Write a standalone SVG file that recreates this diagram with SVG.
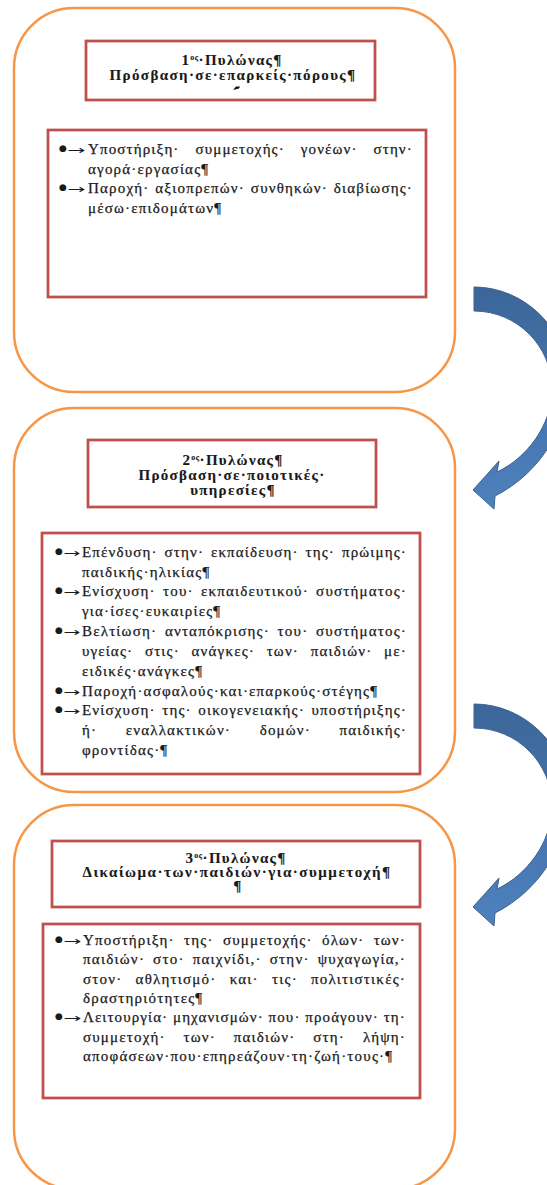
<svg xmlns="http://www.w3.org/2000/svg" width="547" height="1185" viewBox="0 0 547 1185">
<style>
.outer{fill:#fff;stroke:#f79646;stroke-width:2.5}
.red{fill:#fff;stroke:#c0504d;stroke-width:2.75}
.t{font-family:"Liberation Serif","DejaVu Serif",serif;font-size:15px;letter-spacing:1.2px;fill:#1a1a1a;stroke:#1a1a1a;stroke-width:0.25}
.h{font-weight:bold;letter-spacing:1.3px;text-anchor:middle;stroke-width:0.1}
.b{font-family:"DejaVu Sans",sans-serif;font-size:9px;fill:#1a1a1a}
.ar{font-family:"DejaVu Sans",sans-serif;font-size:12px;fill:#1a1a1a}
.sup{font-size:8px;letter-spacing:0.5px}
.arrow{fill:url(#ag);stroke:#3a6291;stroke-width:1}
</style>
<defs>
<linearGradient id="ag" x1="0" y1="0" x2="0" y2="1">
<stop offset="0" stop-color="#3c6698"/>
<stop offset="0.6" stop-color="#4576b1"/>
<stop offset="1" stop-color="#4f81bd"/>
</linearGradient>
<path id="curv" d="M 474 287 C 525 287, 568 330, 568 380 C 568 426, 542 472, 495 496 L 494 509 L 473 490 L 499 461 L 497 472 C 527 458, 552 425, 552 389 C 552 346, 517 311, 474 311 Z"/>
</defs>
<rect width="547" height="1185" fill="#fff"/>

<g id="pillar1">
<rect class="outer" x="14" y="8" width="441" height="384" rx="60" ry="60"/>
<g id="pillar1-title">
<rect class="red" x="86" y="41" width="289" height="59"/>
<text class="t h" x="232" y="65">1<tspan class="sup" dy="-5">ος</tspan><tspan dy="5">·Πυλώνας¶</tspan></text>
<text class="t h" x="233" y="80" textLength="247" lengthAdjust="spacing">Πρόσβαση·σε·επαρκείς·πόρους¶</text>
<path d="M233 90 L236 86.5 L240 86.5 L239 88.5 Z" fill="#111"/>
</g>
<g id="pillar1-content">
<rect class="red" x="48" y="130" width="378" height="167"/>
<text class="b" x="59" y="151">●</text><text class="ar" x="67" y="154" textLength="18" lengthAdjust="spacingAndGlyphs">→</text>
<text class="t" x="88" y="154" textLength="325" lengthAdjust="spacing" style="word-spacing:11px">Υποστήριξη· συμμετοχής· γονέων· στην·</text>
<text class="t" x="88" y="173.5">αγορά·εργασίας¶</text>
<text class="b" x="59" y="190">●</text><text class="ar" x="67" y="193" textLength="18" lengthAdjust="spacingAndGlyphs">→</text>
<text class="t" x="88" y="193" textLength="325" lengthAdjust="spacing" style="word-spacing:1px">Παροχή· αξιοπρεπών· συνθηκών· διαβίωσης·</text>
<text class="t" x="88" y="212.5">μέσω·επιδομάτων¶</text>
</g>
</g>

<g id="pillar2">
<rect class="outer" x="14" y="408" width="441" height="384" rx="60" ry="60"/>
<g id="pillar2-title">
<rect class="red" x="88" y="440" width="288" height="67"/>
<text class="t h" x="233" y="465">2<tspan class="sup" dy="-5">ος</tspan><tspan dy="5">·Πυλώνας¶</tspan></text>
<text class="t h" x="232" y="480">Πρόσβαση·σε·ποιοτικές·</text>
<text class="t h" x="233" y="495">υπηρεσίες¶</text>
</g>
<g id="pillar2-content">
<rect class="red" x="42" y="533" width="378" height="241"/>
<text class="b" x="55" y="554">●</text><text class="ar" x="63" y="557" textLength="17" lengthAdjust="spacingAndGlyphs">→</text>
<text class="t" x="82" y="557" textLength="325" lengthAdjust="spacing" style="word-spacing:2px">Επένδυση· στην· εκπαίδευση· της· πρώιμης·</text>
<text class="t" x="82" y="577">παιδικής·ηλικίας¶</text>
<text class="b" x="55" y="593">●</text><text class="ar" x="63" y="596" textLength="17" lengthAdjust="spacingAndGlyphs">→</text>
<text class="t" x="82" y="596" textLength="325" lengthAdjust="spacing" style="word-spacing:2.3px">Ενίσχυση· του· εκπαιδευτικού· συστήματος·</text>
<text class="t" x="82" y="616">για·ίσες·ευκαιρίες¶</text>
<text class="b" x="55" y="633">●</text><text class="ar" x="63" y="636" textLength="17" lengthAdjust="spacingAndGlyphs">→</text>
<text class="t" x="82" y="636" textLength="325" lengthAdjust="spacing" style="word-spacing:2.8px">Βελτίωση· ανταπόκρισης· του· συστήματος·</text>
<text class="t" x="82" y="656" textLength="325" lengthAdjust="spacing" style="word-spacing:6.8px">υγείας· στις· ανάγκες· των· παιδιών· με·</text>
<text class="t" x="82" y="676">ειδικές·ανάγκες¶</text>
<text class="b" x="55" y="693">●</text><text class="ar" x="63" y="696" textLength="17" lengthAdjust="spacingAndGlyphs">→</text>
<text class="t" x="82" y="696">Παροχή·ασφαλούς·και·επαρκούς·στέγης¶</text>
<text class="b" x="55" y="712">●</text><text class="ar" x="63" y="715" textLength="17" lengthAdjust="spacingAndGlyphs">→</text>
<text class="t" x="82" y="715" textLength="325" lengthAdjust="spacing" style="word-spacing:1.7px">Ενίσχυση· της· οικογενειακής· υποστήριξης·</text>
<text class="t" x="82" y="735" textLength="325" lengthAdjust="spacing" style="word-spacing:23.7px">ή· εναλλακτικών· δομών· παιδικής·</text>
<text class="t" x="82" y="755">φροντίδας·¶</text>
</g>
</g>

<g id="pillar3">
<rect class="outer" x="14" y="805" width="441" height="384" rx="60" ry="60"/>
<g id="pillar3-title">
<rect class="red" x="52" y="841" width="368" height="66"/>
<text class="t h" x="236" y="863">3<tspan class="sup" dy="-5">ος</tspan><tspan dy="5">·Πυλώνας¶</tspan></text>
<text class="t h" x="237" y="877" textLength="309" lengthAdjust="spacing">Δικαίωμα·των·παιδιών·για·συμμετοχή¶</text>
<text class="t h" x="238" y="891">¶</text>
</g>
<g id="pillar3-content">
<rect class="red" x="43" y="924" width="377" height="174"/>
<text class="b" x="55" y="942">●</text><text class="ar" x="63" y="945" textLength="18" lengthAdjust="spacingAndGlyphs">→</text>
<text class="t" x="83" y="945" textLength="323" lengthAdjust="spacing" style="word-spacing:4.5px">Υποστήριξη· της· συμμετοχής· όλων· των·</text>
<text class="t" x="83" y="964" textLength="323" lengthAdjust="spacing" style="word-spacing:3px">παιδιών· στο· παιχνίδι,· στην· ψυχαγωγία,·</text>
<text class="t" x="83" y="984" textLength="323" lengthAdjust="spacing" style="word-spacing:8.2px">στον· αθλητισμό· και· τις· πολιτιστικές·</text>
<text class="t" x="83" y="1003">δραστηριότητες¶</text>
<text class="b" x="55" y="1019">●</text><text class="ar" x="63" y="1022" textLength="18" lengthAdjust="spacingAndGlyphs">→</text>
<text class="t" x="83" y="1022" textLength="323" lengthAdjust="spacing" style="word-spacing:0px">Λειτουργία· μηχανισμών· που· προάγουν· τη·</text>
<text class="t" x="83" y="1042" textLength="323" lengthAdjust="spacing" style="word-spacing:13px">συμμετοχή· των· παιδιών· στη· λήψη·</text>
<text class="t" x="83" y="1061">αποφάσεων·που·επηρεάζουν·τη·ζωή·τους·¶</text>
</g>
</g>

<g id="connectors">
<use id="arrow-1-2" class="arrow" href="#curv"/>
<use id="arrow-2-3" class="arrow" href="#curv" transform="translate(0,417)"/>
</g>
</svg>
